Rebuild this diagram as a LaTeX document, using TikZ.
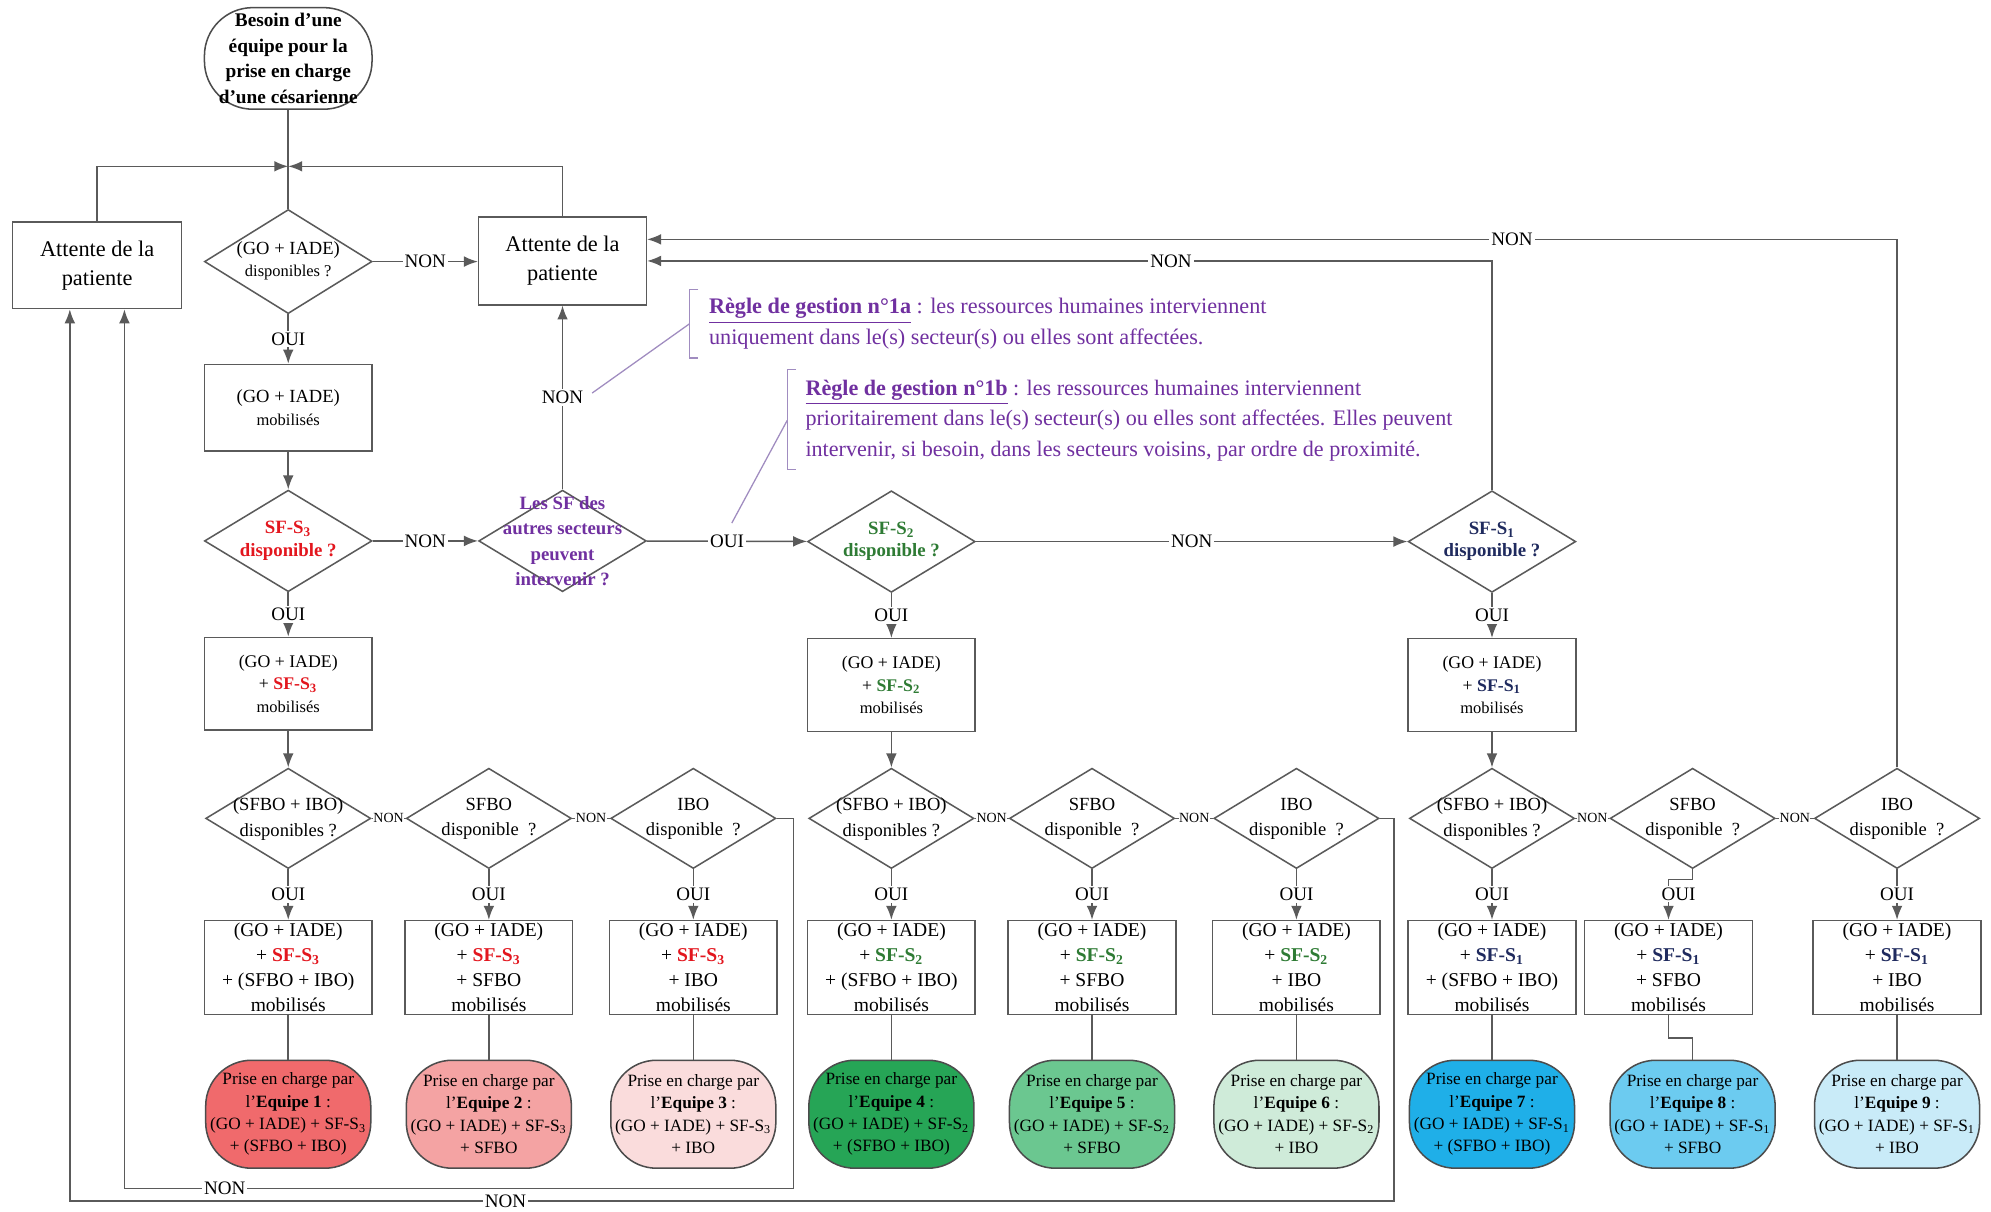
\documentclass[tikz,border=0pt]{standalone}
\usepackage{fontspec}
\setmainfont{Liberation Serif}
\usetikzlibrary{shapes.geometric,arrows.meta,calc}
\newcommand\fs[2]{\fontsize{#1}{#2}\selectfont}
\definecolor{cS3}{HTML}{E3161E}
\definecolor{cS2}{HTML}{2E7B34}
\definecolor{cS1}{HTML}{1F2A5E}
\definecolor{purp}{HTML}{7030A0}
\definecolor{purl}{HTML}{A08CC0}
\definecolor{lnc}{HTML}{5A5A5A}
\definecolor{q1}{HTML}{F06A6C}
\definecolor{q2}{HTML}{F4A3A3}
\definecolor{q3}{HTML}{FADCDC}
\definecolor{q4}{HTML}{26A556}
\definecolor{q5}{HTML}{6BC790}
\definecolor{q6}{HTML}{CFEBD9}
\definecolor{q7}{HTML}{1FAFE8}
\definecolor{q8}{HTML}{6CCBF0}
\definecolor{q9}{HTML}{C9EBF8}
\begin{document}
\begin{tikzpicture}[x=0.5pt,y=-0.5pt,
 ln/.style={draw=lnc, line width=0.6pt},
 arr/.style={ln, -{Latex[length=5.5pt,width=4.2pt]}},
 boxn/.style={draw=lnc, line width=0.6pt, rectangle, minimum width=66pt, inner sep=0pt, align=center},
 dian/.style={draw=lnc, line width=0.6pt, diamond, minimum width=66pt, minimum height=40pt, inner sep=0pt},
 dtxt/.style={align=center, inner sep=0pt},
 eqn/.style={draw=black!70, line width=0.6pt, rounded corners=18pt, minimum width=65pt, minimum height=42.5pt, align=center, inner sep=0pt},
 startn/.style={draw=black!70, line width=0.6pt, rounded corners=19pt, minimum width=66pt, minimum height=40pt, align=center, inner sep=0pt},
 lab/.style={fill=white, inner sep=0.8pt, font=\fs{7.5}{9}},
 slab/.style={fill=white, inner sep=0.2pt, font=\fs{5.5}{6}},
 callout/.style={draw=purl, line width=0.5pt},
]
\useasboundingbox (0,0) rectangle (1568,954);
\fill[white] (0,0) rectangle (1568,954);

% --- top part
\node[startn, font=\bfseries\fs{7.6}{10}] (start) at (227,46) {Besoin d’une\\équipe pour la\\prise en charge\\d’une césarienne};
\node[boxn, minimum width=66.5pt, minimum height=34pt, font=\fs{8.8}{11.5}] (att1) at (76.5,209) {Attente de la\\patiente};
\node[boxn, minimum height=34.5pt, font=\fs{8.8}{11.5}] (att2) at (443,205.5) {Attente de la\\patiente};

\node[dian, minimum height=41pt] (dgo) at (227,206) {};
\node[dtxt, font=\fs{7.3}{8.5}] (dgot) at (227,205.5) {(GO + IADE)\\\fs{6.5}{8.5}disponibles ?};

\node[boxn, minimum height=34pt, font=\fs{7.3}{9}] (gom) at (227,321) {(GO + IADE)\\\fs{6.5}{9}mobilisés};

\node[dian] (sf3) at (227,426) {};
\node[dtxt, text=cS3, font=\bfseries\fs{7.4}{8.8}] (sf3t) at (227,426) {SF-S\textsubscript{3}\\disponible ?};
\node[dian] (oth) at (443,426) {};
\node[dtxt, text=purp, font=\bfseries\fs{7.4}{10}] (otht) at (443,426) {Les SF des\\autres secteurs\\peuvent\\intervenir ?};
\node[dian] (sf2) at (702,426.5) {};
\node[dtxt, text=cS2, font=\bfseries\fs{7.4}{8.8}] (sf2t) at (702,426.5) {SF-S\textsubscript{2}\\disponible ?};
\node[dian] (sf1) at (1175,426.5) {};
\node[dtxt, text=cS1, font=\bfseries\fs{7.4}{8.8}] (sf1t) at (1175,426.5) {SF-S\textsubscript{1}\\disponible ?};

\node[boxn, minimum height=36.5pt, font=\fs{7}{8.9}] (bs3) at (227,538.5) {(GO + IADE)\\+ \textcolor{cS3}{\bfseries SF-S\textsubscript{3}}\\\fs{6.5}{8.9}mobilisés};
\node[boxn, minimum height=36.5pt, font=\fs{7}{8.9}] (bs2) at (702,539.5) {(GO + IADE)\\+ \textcolor{cS2}{\bfseries SF-S\textsubscript{2}}\\\fs{6.5}{8.9}mobilisés};
\node[boxn, minimum height=36.5pt, font=\fs{7}{8.9}] (bs1) at (1175,539.5) {(GO + IADE)\\+ \textcolor{cS1}{\bfseries SF-S\textsubscript{1}}\\\fs{6.5}{8.9}mobilisés};

% --- rules
\node[anchor=west, align=left, inner sep=0pt, text=purp, font=\fs{8.75}{12}] (r1a) at (558,255) {\underline{\textbf{Règle de gestion n°1a}} : les ressources humaines interviennent\\uniquement dans le(s) secteur(s) ou elles sont affectées.};
\node[anchor=west, align=left, inner sep=0pt, text=purp, font=\fs{8.7}{12}] (r1b) at (634,331) {\underline{\textbf{Règle de gestion n°1b}} : les ressources humaines interviennent\\prioritairement dans le(s) secteur(s) ou elles sont affectées. Elles peuvent\\intervenir, si besoin, dans les secteurs voisins, par ordre de proximité.};
\coordinate (br1t) at (550,228);
\coordinate (br1m) at (543,255);
\coordinate (br1b) at (550,282);
\coordinate (br2t) at (627,291);
\coordinate (br2m) at (620,331);
\coordinate (br2b) at (627,370);
\draw[callout] (br1t) -- (br1t -| br1m) -- (br1b -| br1m) -- (br1b);
\draw[callout] (br2t) -- (br2t -| br2m) -- (br2b -| br2m) -- (br2b);

% --- bottom rows
\foreach \i/\x/\bx/\s/\c/\dq/\dd/\pl in {
 1/227/227/3/cS3/{(SFBO + IBO)}/{disponibles ?}/{(SFBO + IBO)},
 2/385/385/3/cS3/{SFBO}/{disponible~ ?}/{SFBO},
 3/546/546/3/cS3/{IBO}/{disponible~ ?}/{IBO},
 4/702/702/2/cS2/{(SFBO + IBO)}/{disponibles ?}/{(SFBO + IBO)},
 5/860/860/2/cS2/{SFBO}/{disponible~ ?}/{SFBO},
 6/1021/1021/2/cS2/{IBO}/{disponible~ ?}/{IBO},
 7/1175/1175/1/cS1/{(SFBO + IBO)}/{disponibles ?}/{(SFBO + IBO)},
 8/1333/1314/1/cS1/{SFBO}/{disponible~ ?}/{SFBO},
 9/1494/1494/1/cS1/{IBO}/{disponible~ ?}/{IBO}}
{
 \node[dian, minimum width=65pt, minimum height=39.5pt] (d\i) at (\x,644.5) {};
 \node[dtxt, font=\fs{7.3}{10}] (dt\i) at (\x,645) {\dq\\\dd};
 \node[boxn, minimum height=37pt, font=\fs{7.7}{9.85}] (b\i) at (\bx,762) {(GO + IADE)\\+ \textcolor{\c}{\bfseries SF-S\textsubscript{\s}}\\+ \pl\\mobilisés};
 \node[eqn, fill=q\i, font=\fs{6.8}{8.8}] (e\i) at (\x,877.5) {Prise en charge par\\l’\textbf{Equipe \i} :\\(GO + IADE) + SF-S\textsubscript{\s}\\+ \pl};
}

% --- connectors top
\coordinate (jn) at (227,131);
\draw[ln] (start) -- (dgo);
\draw[arr] (att1.north) |- (jn);
\draw[arr] (att2.north) |- (jn);
\draw[arr] (dgo.east) -- node[lab] (l1) {NON} (dgo.east -| att2.west);
\draw[arr] (dgo) -- node[lab] (l2) {OUI} (gom);
\draw[arr] (gom) -- (sf3);
\draw[arr] (sf3) -- node[lab] (l3) {NON} (oth);
\draw[arr] (oth) -- node[lab] (nonA) {NON} (att2);
\draw[arr] (oth) -- node[lab] (ouiA) {OUI} (sf2);
\draw[arr] (sf2) -- node[lab] (l4) {NON} (sf1);
\draw[arr] (sf1.north) |- node[lab, pos=0.69] (l5) {NON} (att2.east);
\draw[arr] (d9.north) |- node[lab, pos=0.654] (l6) {NON} ($(att2.east)+(0,-17)$);
\draw[arr] (sf3) -- node[lab] (l7) {OUI} (bs3);
\draw[arr] (sf2) -- node[lab] (l8) {OUI} (bs2);
\draw[arr] (sf1) -- node[lab] (l9) {OUI} (bs1);
\draw[arr] (bs3) -- (d1);
\draw[arr] (bs2) -- (d4);
\draw[arr] (bs1) -- (d7);

% callout lines
\draw[callout, shorten <=3pt] (nonA.east) -- (br1m);
\draw[callout, shorten <=4pt] (ouiA.north) -- (br2m);

% --- connectors bottom
\foreach \i in {1,2,3,4,5,6,7,9}{
 \draw[arr] (d\i) -- node[lab] (o\i) {OUI} (b\i);
 \draw[ln] (b\i) -- (e\i);
}
\draw[arr] (d8.south) -- ++(0,8) -| (b8.north);
\node[lab] (o8) at (1322,704) {OUI};
\draw[ln] (b8.south) -- ++(0,18) -| (e8.north);
\foreach \a/\b in {1/2,2/3,4/5,5/6,7/8,8/9}
 \draw[ln] (d\a.east) -- node[slab] (n\a) {NON} (d\b.west);

\coordinate (cR1) at (625,936);
\coordinate (cL1) at (98,936);
\coordinate (cR2) at (1098,946);
\coordinate (cL2) at (55,946);
\draw[arr] (d3.east) -| (cR1) -- node[lab, pos=0.85] (l10) {NON} (cL1) -- (cL1 |- att1.south);
\draw[arr] (d6.east) -| (cR2) -- node[lab, pos=0.671] (l11) {NON} (cL2) -- (cL2 |- att1.south);
\end{tikzpicture}
\end{document}
